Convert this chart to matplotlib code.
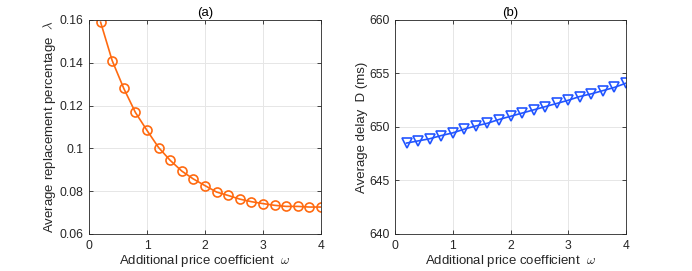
import numpy as np
import matplotlib
matplotlib.use('Agg')
import matplotlib.pyplot as plt

plt.rcParams['font.family'] = ['Liberation Sans', 'DejaVu Sans']
plt.rcParams['mathtext.fontset'] = 'cm'

omega = [0.2, 0.4, 0.6, 0.8, 1.0, 1.2, 1.4, 1.6, 1.8, 2.0,
         2.2, 2.4, 2.6, 2.8, 3.0, 3.2, 3.4, 3.6, 3.8, 4.0]
replacement = [0.1590, 0.1410, 0.1280, 0.1168, 0.1084, 0.1004, 0.0944, 0.0894, 0.0857, 0.0826,
               0.0796, 0.0780, 0.0763, 0.0751, 0.0742, 0.0734, 0.0729, 0.0729, 0.0726, 0.0726]
delay = [648.5, 648.7, 648.9, 649.2, 649.45, 649.8, 650.1, 650.35, 650.7, 651.0,
         651.3, 651.6, 651.9, 652.2, 652.5, 652.85, 653.1, 653.4, 653.7, 654.1]

orange = '#FF6A10'
blue = '#2255FF'
axcol = '#262626'

fig = plt.figure(figsize=(6.92, 2.71), dpi=100)
ax1 = fig.add_axes([89/692, 1-234/271, 232/692, 214/271])
ax2 = fig.add_axes([395/692, 1-234/271, 231/692, 214/271])

def style(ax):
    ax.grid(True, color='#e6e6e6', linewidth=0.7)
    ax.set_axisbelow(True)
    for s in ax.spines.values():
        s.set_color(axcol)
        s.set_linewidth(0.6)
    ax.tick_params(direction='in', length=3, width=0.6, colors=axcol, pad=4,
                   labelsize=8.7, top=True, right=True, labeltop=False, labelright=False)
    ax.set_xlim(0, 4)
    ax.set_xticks([0, 1, 2, 3, 4])
    ax.set_xlabel(r'Additional price coefficient  $\omega$', fontsize=9.5, color=axcol, labelpad=1)

ax1.plot(omega, replacement, '-o', color=orange, linewidth=1.2, markersize=6.5,
         markerfacecolor='none', markeredgewidth=1.2)
style(ax1)
ax1.set_ylim(0.06, 0.16)
ax1.set_yticks([0.06, 0.08, 0.1, 0.12, 0.14, 0.16])
ax1.set_yticklabels(['0.06', '0.08', '0.1', '0.12', '0.14', '0.16'])
ax1.set_ylabel(r'Average replacement percentage  $\lambda$', fontsize=9.5, color=axcol, labelpad=1)
ax1.set_title('(a)', fontsize=9.5, color='black', pad=3)

ax2.plot(omega, delay, '-v', color=blue, linewidth=1.2, markersize=7,
         markerfacecolor='none', markeredgewidth=1.2)
style(ax2)
ax2.set_ylim(640, 660)
ax2.set_yticks([640, 645, 650, 655, 660])
ax2.set_ylabel('Average delay  D (ms)', fontsize=9.5, color=axcol, labelpad=1)
ax2.set_title('(b)', fontsize=9.5, color='black', pad=3)

fig.savefig('out.png', dpi=100)
